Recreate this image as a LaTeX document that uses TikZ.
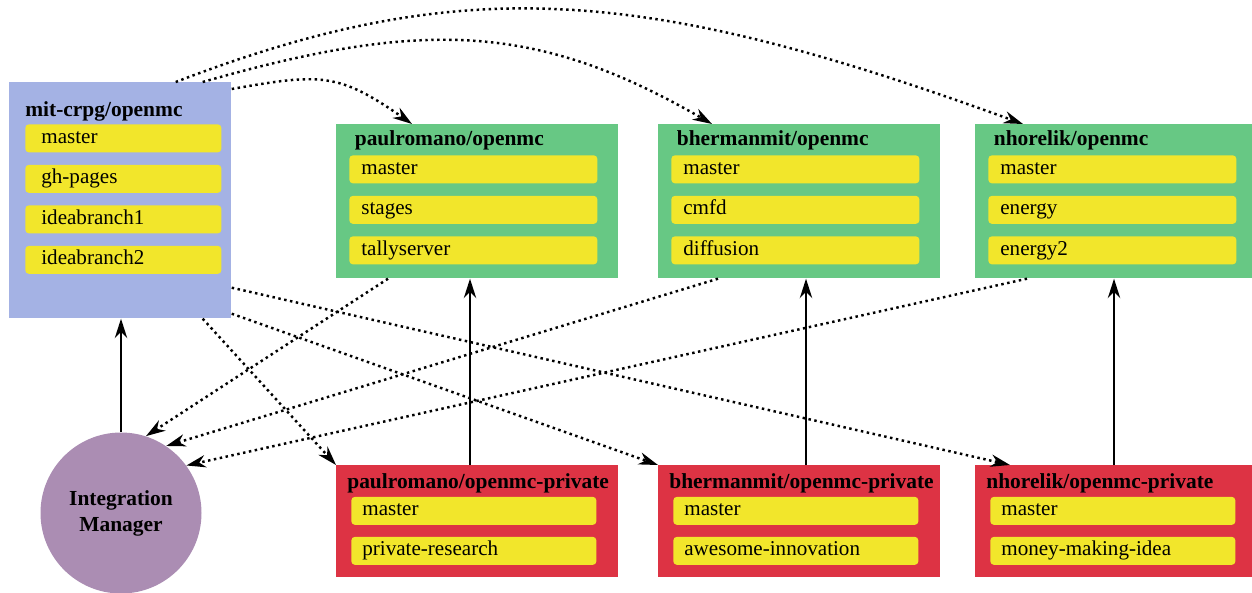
\documentclass[tikz,border=0pt]{standalone}
\usepackage{fontspec}
\setmainfont{Liberation Serif}
\usetikzlibrary{arrows.meta,positioning}

\definecolor{blueRepo}{RGB}{164,178,228}
\definecolor{greenRepo}{RGB}{103,200,132}
\definecolor{redRepo}{RGB}{221,51,68}
\definecolor{branchYellow}{RGB}{242,230,43}
\definecolor{managerPurple}{RGB}{171,141,179}

\tikzset{
    repo/.style={rectangle,inner sep=0,anchor=north west,minimum width=5.64cm},
    publicrepo/.style={repo,fill=greenRepo,minimum height=3.08cm},
    privaterepo/.style={repo,fill=redRepo,minimum height=2.24cm},
    reponame/.style={anchor=base west,inner sep=0,font=\fontsize{12.2}{14.5}\selectfont\bfseries},
    branch/.style={fill=branchYellow,rounded corners=2pt,anchor=north west,
        minimum height=0.56cm,inner xsep=0.24cm,inner ysep=0,
        text height=1.6ex,text depth=0.4ex,align=left,text width=4.48cm},
    push/.style={-{Stealth[length=11pt,width=7pt,inset=3.5pt]},line width=1.4pt},
    fetch/.style={push,dotted}
}

\begin{document}
\begin{tikzpicture}[font=\fontsize{12}{14.5}\selectfont]
            \useasboundingbox (0,0) rectangle (25.04,-11.84);
            % main repository
            \node[repo,fill=blueRepo,minimum width=4.44cm,minimum height=4.72cm] (main) at (0.18,-1.64) {};
            \node[reponame] (main-name) at ([xshift=0.32cm,yshift=-0.69cm]main.north west) {mit-crpg/openmc};
            \foreach \b [count=\i] in {master,gh-pages,ideabranch1,ideabranch2}{
                \pgfmathsetmacro\dy{-0.84-0.81*(\i-1)}
                \node[branch,inner xsep=0.32cm,text width=3.28cm] (main-\i) at ([xshift=0.32cm,yshift=\dy cm]main.north west) {\b};
            }
            % integration manager
            \node[circle,fill=managerPurple,minimum size=3.22cm,inner sep=0,align=center,
                font=\fontsize{12.2}{14.8}\selectfont\bfseries] (im) at (2.42,-10.26) {Integration\\Manager};
            \draw[push] (im.north) -- (im.north |- main.south);
            % developer repositories
            \foreach \who/\x/\dx/\pub/\priv in {paulromano/6.72/2.68/{master,stages,tallyserver}/{master,private-research},
                bhermanmit/13.16/2.96/{master,cmfd,diffusion}/{master,awesome-innovation},
                nhorelik/19.5/2.78/{master,energy,energy2}/{master,money-making-idea}}{
                \node[publicrepo] (\who) at (\x,-2.48) {};
                \node[reponame] (\who-name) at ([xshift=0.37cm,yshift=-0.44cm]\who.north west) {\who/openmc};
                \foreach \b [count=\i] in \pub{
                    \pgfmathsetmacro\dy{-0.62-0.81*(\i-1)}
                    \node[branch] (\who-\i) at ([xshift=0.26cm,yshift=\dy cm]\who.north west) {\b};
                }
                \node[privaterepo] (\who-priv) at (\x,-9.3) {};
                \node[reponame] (\who-priv-name) at ([xshift=0.22cm,yshift=-0.46cm]\who-priv.north west) {\who/openmc-private};
                \foreach \b [count=\i] in \priv{
                    \pgfmathsetmacro\dy{-0.63-0.8*(\i-1)}
                    \node[branch,inner xsep=0.22cm,text width=4.46cm] (\who-priv-\i) at ([xshift=0.3cm,yshift=\dy cm]\who-priv.north west) {\b};
                }
                \draw[push] ([xshift=\dx cm]\who-priv.north west) -- ([xshift=\dx cm]\who.south west);
            }
            % forks of the main repository
            \draw[fetch] ([yshift=-0.14cm]main.north east) .. controls +(10:1.8cm) and +(145:1.8cm) .. ([xshift=1.52cm]paulromano.north west);
            \draw[fetch] ([xshift=-0.58cm]main.north east) .. controls +(16:4.58cm) and +(150:4.04cm) .. ([xshift=1.08cm]bhermanmit.north west);
            \draw[fetch] ([xshift=-1.12cm]main.north east) .. controls +(21:6.2cm) and +(160:8cm) .. ([xshift=0.96cm]nhorelik.north west);
            \draw[fetch] ([xshift=-0.58cm]main.south east) -- (paulromano-priv.north west);
            \draw[fetch] ([yshift=0.1cm]main.south east) -- (bhermanmit-priv.north west);
            \draw[fetch] ([yshift=0.62cm]main.south east) -- ([xshift=0.7cm]nhorelik-priv.north west);
            % pull requests to the manager
            \draw[fetch] ([xshift=1.04cm]paulromano.south west) -- (im.72);
            \draw[fetch] ([xshift=1.2cm]bhermanmit.south west) -- (im.56);
            \draw[fetch] ([xshift=1.04cm]nhorelik.south west) -- (im.36);
        \end{tikzpicture}
\end{document}
